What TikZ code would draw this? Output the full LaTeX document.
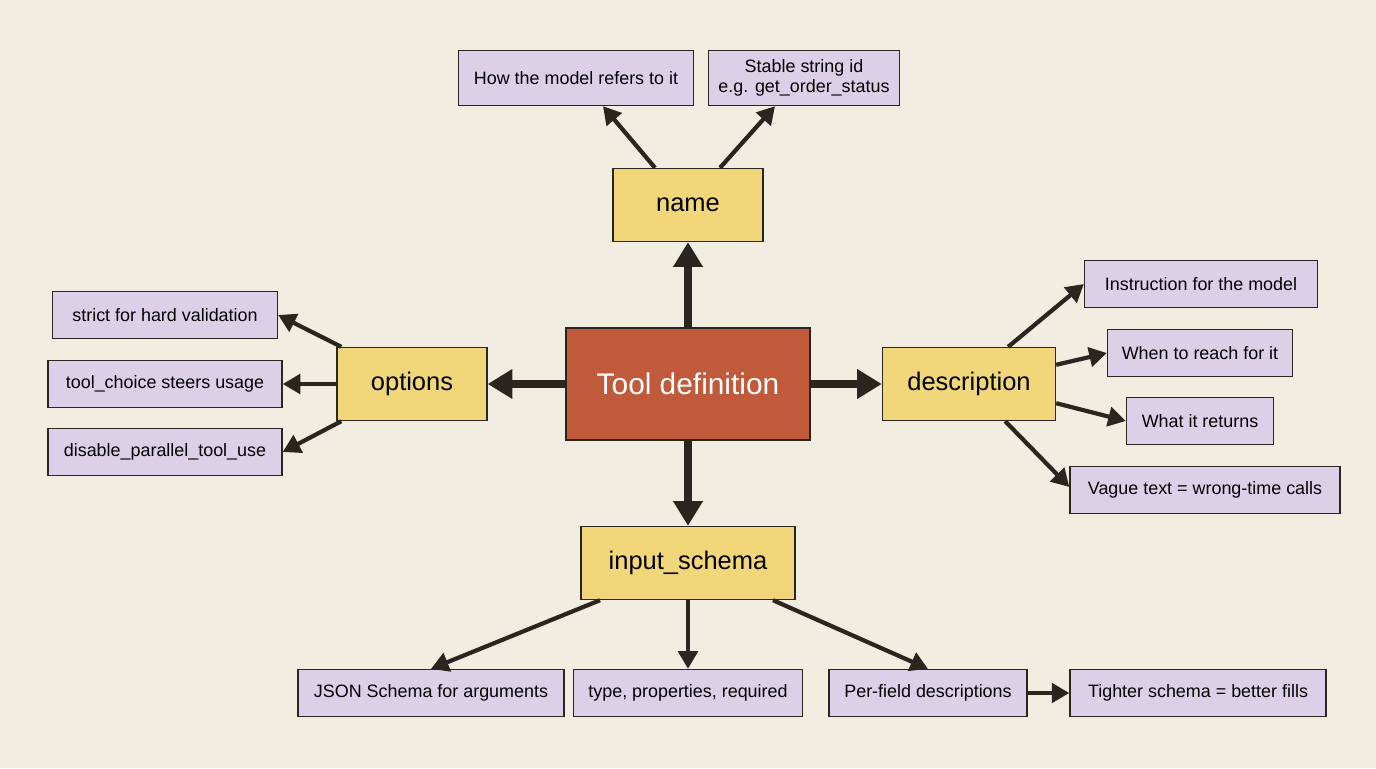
\documentclass[tikz,border=0pt]{standalone}
\usepackage{fontspec}
\setmainfont{Liberation Sans}
\usetikzlibrary{arrows.meta}
\definecolor{bgcol}{HTML}{F2EDE1}
\definecolor{corecol}{HTML}{C05A3A}
\definecolor{keycol}{HTML}{F2D67A}
\definecolor{leafcol}{HTML}{DCD0E8}
\definecolor{inkcol}{HTML}{2B2520}
\begin{document}
\begin{tikzpicture}[x=0.02cm,y=-0.02cm,
        core/.style = {draw=inkcol, fill=corecol, text=white, line width=0.8pt,
            minimum width=4.88cm, minimum height=2.24cm, font=\fontsize{17}{20}\selectfont},
        key/.style = {draw=inkcol, fill=keycol, line width=0.8pt,
            minimum height=1.46cm, font=\fontsize{14.5}{17}\selectfont},
        leaf/.style = {draw=inkcol, fill=leafcol, line width=0.8pt, align=center,
            minimum height=0.94cm, font=\fontsize{10.2}{11.5}\selectfont},
        big/.style = {-{Triangle[length=14pt,width=16pt]}, line width=4pt, draw=inkcol},
        thin/.style = {-{Triangle[length=10pt,width=11pt]}, line width=2.4pt, draw=inkcol}]

        \fill[bgcol] (0,0) rectangle (1376,768);

        \node[core] (tool) at (688,384) {Tool definition};
        \node[key, minimum width=3cm] (name) at (688,205) {name};
        \node[key, minimum width=3cm] (opt) at (412,384) {options};
        \node[key, minimum width=3.46cm] (desc) at (969,384) {description};
        \node[key, minimum width=4.28cm] (schema) at (688,563) {input\_schema};

        \node[leaf, minimum width=4.7cm, minimum height=1.1cm] (n1) at (576,78) {How the model refers to it};
        \node[leaf, minimum width=3.82cm, minimum height=1.1cm] (n2) at (804,78) {Stable string id\\e.g. get\_order\_status};

        \node[leaf, minimum width=4.5cm] (o1) at (165,315) {strict for hard validation};
        \node[leaf, minimum width=4.68cm] (o2) at (165,384) {tool\_choice steers usage};
        \node[leaf, minimum width=4.68cm] (o3) at (165,452) {disable\_parallel\_tool\_use};

        \node[leaf, minimum width=4.66cm] (d1) at (1201,284) {Instruction for the model};
        \node[leaf, minimum width=3.7cm] (d2) at (1200,353) {When to reach for it};
        \node[leaf, minimum width=2.94cm] (d3) at (1200,421) {What it returns};
        \node[leaf, minimum width=5.4cm] (d4) at (1205,490) {Vague text = wrong-time calls};

        \node[leaf, minimum width=5.32cm] (s1) at (431,693) {JSON Schema for arguments};
        \node[leaf, minimum width=4.58cm] (s2) at (688,693) {type, properties, required};
        \node[leaf, minimum width=3.96cm] (s3) at (928,693) {Per-field descriptions};
        \node[leaf, minimum width=5.12cm] (s4) at (1198,693) {Tighter schema = better fills};

        % hub to keys
        \draw[big] (tool.north) -- (name.south);
        \draw[big] (tool.west) -- (opt.east);
        \draw[big] (tool.east) -- (desc.west);
        \draw[big] (tool.south) -- (schema.north);

        % name
        \draw[thin] ([xshift=-0.66cm]name.north) -- ([xshift=0.54cm]n1.south);
        \draw[thin] ([xshift=0.64cm]name.north) -- ([xshift=-0.58cm]n2.south);

        % options
        \draw[thin] ([xshift=0.1cm]opt.north west) -- (o1.east);
        \draw[thin] (opt.west) -- (o2.east);
        \draw[thin] ([xshift=0.1cm]opt.south west) -- (o3.east);

        % description
        \draw[thin] ([xshift=-0.96cm]desc.north east) -- (d1.west);
        \draw[thin] ([yshift=-0.36cm]desc.north east) -- (d2.west);
        \draw[thin] ([yshift=0.36cm]desc.south east) -- (d3.west);
        \draw[thin] ([xshift=-1.02cm]desc.south east) -- ([yshift=0.06cm]d4.west);

        % input_schema
        \draw[thin] ([xshift=-1.76cm]schema.south) -- (s1.north);
        \draw[thin] (schema.south) -- (s2.north);
        \draw[thin] ([xshift=1.7cm]schema.south) -- (s3.north);
        \draw[thin] (s3.east) -- (s4.west);
    \end{tikzpicture}
\end{document}
